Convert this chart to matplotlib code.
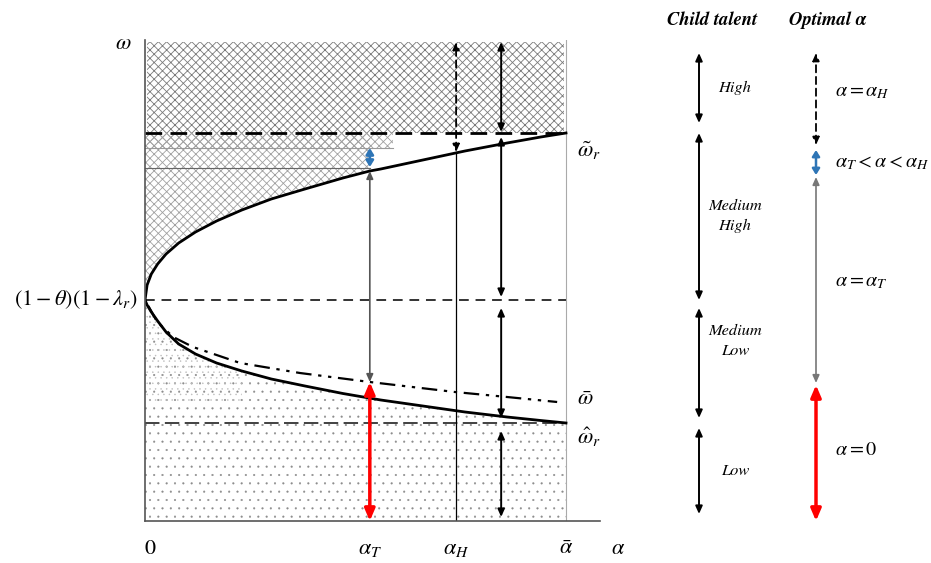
import matplotlib
matplotlib.use("Agg")
import matplotlib.pyplot as plt
import numpy as np

plt.rcParams["mathtext.fontset"] = "stix"
plt.rcParams["font.family"] = ["STIXGeneral", "DejaVu Serif"]
plt.rcParams["hatch.linewidth"] = 0.6

# Levels (omega) and thresholds (alpha, with alpha_bar = 1)
w_top = 4.79
w_tilde = 3.88
w_center = 2.21
w_hat = 0.98
blue_band = [3.73, 3.51]
alpha_T = 0.534
alpha_H = 0.739
alpha_mark = 0.846
w_tilde_T = 3.50
w_tilde_H = 3.69

# Upper boundary (omega tilde)
up_alpha = [0.0, 0.005, 0.015, 0.03, 0.05, 0.08, 0.12, 0.17, 0.23, 0.30, 0.38,
            0.47, 0.534, 0.56, 0.66, 0.76, 0.86, 0.94, 1.0]
up_omega = [2.21, 2.36, 2.47, 2.57, 2.67, 2.78, 2.89, 3.00, 3.11, 3.22, 3.32,
            3.43, 3.50, 3.52, 3.61, 3.70, 3.78, 3.84, 3.88]

# Lower boundary (omega hat)
lo_alpha = [0.0, 0.005, 0.015, 0.03, 0.05, 0.08, 0.12, 0.17, 0.23, 0.30, 0.38,
            0.47, 0.56, 0.66, 0.76, 0.86, 0.94, 1.0]
lo_omega = [2.21, 2.16, 2.09, 2.00, 1.89, 1.77, 1.67, 1.58, 1.50, 1.42, 1.35,
            1.275, 1.21, 1.15, 1.09, 1.04, 1.005, 0.98]

# omega bar (dash-dot)
bar_alpha = [0.008, 0.029, 0.067, 0.114, 0.226, 0.368, 0.534, 0.736, 0.860, 0.979]
bar_omega = [2.15, 1.99, 1.84, 1.74, 1.58, 1.48, 1.39, 1.29, 1.24, 1.19]
w_bar_T = 1.39

# Right-hand legend
talent_labels = ["High", "Medium\nHigh", "Medium\nLow", "Low"]
talent_spans = [(4.68, 3.98), (3.88, 2.21), (2.13, 1.03), (0.93, 0.07)]
talent_label_y = [4.33, 3.05, 1.80, 0.50]
optimal_labels = [r"$\alpha=\alpha_H$", r"$\alpha_T<\alpha<\alpha_H$", r"$\alpha=\alpha_T$", r"$\alpha=0$"]
optimal_spans = [(4.68, 3.76), (3.71, 3.46), (3.44, 1.38), (1.36, 0.0)]
optimal_label_y = [4.29, 3.58, 2.39, 0.71]

BLUE = "#2E75B6"
RED = "#FF0000"


def darrow(ax, x, y0, y1, color="black", lw=1.3, ls="-", hl=0.45, hw=0.2):
    ax.annotate("", xy=(x, y1), xytext=(x, y0),
                arrowprops=dict(arrowstyle=f"<|-|>,head_length={hl},head_width={hw}",
                                color=color, lw=lw, linestyle=ls,
                                shrinkA=0, shrinkB=0),
                annotation_clip=False)


fig = plt.figure(figsize=(9.31, 5.63), dpi=100)
ax = fig.add_axes([145 / 931, 42 / 563, 455 / 931, 481 / 563])
ax.set_xlim(0, 455 / 421)
ax.set_ylim(0, 4.81)
for s in ["top", "right"]:
    ax.spines[s].set_visible(False)
for s in ["left", "bottom"]:
    ax.spines[s].set_color("#555555")
    ax.spines[s].set_linewidth(1.2)
ax.set_xticks([])
ax.set_yticks([])

up_a = np.array(up_alpha)
up_w = np.array(up_omega)
lo_a = np.array(lo_alpha)
lo_w = np.array(lo_omega)

# shaded areas
ax.fill_between([0.005, 0.995], w_tilde, w_top, facecolor="none",
                edgecolor="#7a7a7a", hatch="xxxx", lw=0)
m = up_a <= alpha_T
ax.fill_between(up_a[m], up_w[m], w_tilde, facecolor="none",
                edgecolor="#a0a0a0", hatch="xxxx", lw=0)
ax.fill_between([0.005, 0.589], blue_band[0], w_tilde, facecolor="none",
                edgecolor="#a0a0a0", hatch="xxxx", lw=0)
with plt.rc_context({"hatch.linewidth": 0.3}):
    ax.fill_between(lo_a, 0.02, lo_w, facecolor="none",
                    edgecolor="#8c8c8c", hatch="..", lw=0)
    m2 = lo_a <= 0.266
    ax.fill_between(lo_a[m2], 1.2, lo_w[m2], facecolor="none",
                    edgecolor="#bdbdbd", hatch="...", lw=0)

# thin horizontal guide lines of the blue band
ax.plot([0, 0.589], [blue_band[0], blue_band[0]], color="#9a9a9a", lw=0.8)
ax.plot([0, alpha_T], [blue_band[1] + 0.02, blue_band[1] + 0.02], color="#666666", lw=0.8)

# right boundary alpha_bar
ax.plot([1, 1], [0, 4.81], color="#aaaaaa", lw=0.8)

# horizontal dashed levels
ax.plot([0, 1], [w_tilde, w_tilde], color="black", lw=2.0, ls=(0, (6, 3)))
ax.plot([0, 1], [w_center, w_center], color="#333333", lw=1.4, ls=(0, (5, 3.5)))
ax.plot([0, 1], [w_hat, w_hat], color="#333333", lw=1.3, ls=(0, (8, 3)))

# curves
ax.plot(up_a, up_w, color="black", lw=2.0)
ax.plot(lo_a, lo_w, color="black", lw=2.0)
ax.plot(bar_alpha, bar_omega, color="black", lw=1.6, ls=(0, (7, 3, 1.5, 3, 1.5, 3)))

# alpha_T arrows
darrow(ax, alpha_T, 0.0, w_bar_T, color=RED, lw=2.5, hl=0.7, hw=0.3)
darrow(ax, alpha_T, w_bar_T, w_tilde_T, color="#555555", lw=1.2)
darrow(ax, alpha_T, blue_band[1] + 0.03, blue_band[0], color=BLUE, lw=2.0, hl=0.35, hw=0.22)

# alpha_H line and dashed arrow
ax.plot([alpha_H, alpha_H], [0, w_tilde_H], color="black", lw=0.9)
darrow(ax, alpha_H, w_tilde_H, w_top, color="black", lw=1.3, ls=(0, (4, 2.5)))

# talent arrows in the chart
darrow(ax, alpha_mark, w_tilde + 0.01, w_top, lw=1.4)
darrow(ax, alpha_mark, w_center + 0.03, w_tilde - 0.04, lw=1.4)
darrow(ax, alpha_mark, w_hat + 0.05, w_center - 0.08, lw=1.4)
darrow(ax, alpha_mark, 0.04, w_hat - 0.08, lw=1.4)

# labels around the chart
ms = 16
ax.text(-0.052, 4.77, r"$\omega$", fontsize=ms, ha="center", va="center")
ax.text(-0.017, w_center, r"$(1-\theta)(1-\lambda_r)$", fontsize=ms, ha="right", va="center")
ax.text(1.025, 3.70, r"$\tilde{\omega}_r$", fontsize=ms, ha="left", va="center")
ax.text(1.025, 1.21, r"$\bar{\omega}$", fontsize=ms, ha="left", va="center")
ax.text(1.025, 0.84, r"$\hat{\omega}_r$", fontsize=ms, ha="left", va="center")
ax.text(0.012, -0.28, "0", fontsize=ms, ha="center", va="center")
ax.text(alpha_T, -0.28, r"$\alpha_T$", fontsize=ms, ha="center", va="center")
ax.text(alpha_H, -0.28, r"$\alpha_H$", fontsize=ms, ha="center", va="center")
ax.text(1.0, -0.28, r"$\bar{\alpha}$", fontsize=ms, ha="center", va="center")
ax.text(1.124, -0.28, r"$\alpha$", fontsize=ms, ha="center", va="center")

# legend panel
lg = fig.add_axes([642 / 931, 0, 289 / 931, 1])
lg.set_xlim(642, 931)
lg.set_ylim(-0.42, 5.21)
lg.axis("off")

lg.text(712, 5.01, "Child talent", fontsize=13.4, fontweight="bold", style="italic",
        ha="center", va="center")
lg.text(828, 5.01, "Optimal α", fontsize=13.4, fontweight="bold", style="italic",
        ha="center", va="center")

for lab, (y0, y1), ly in zip(talent_labels, talent_spans, talent_label_y):
    darrow(lg, 699, y1, y0, lw=1.4)
    lg.text(735, ly, lab, fontsize=11.8, style="italic", ha="center", va="center",
            linespacing=1.5)

opt_colors = ["black", BLUE, "#777777", RED]
opt_styles = [(0, (4, 2.5)), "-", "-", "-"]
opt_lw = [1.3, 1.8, 1.2, 2.5]
opt_hl = [0.45, 0.35, 0.45, 0.7]
opt_hw = [0.2, 0.22, 0.2, 0.3]
for i, ((y0, y1), lab, ly) in enumerate(zip(optimal_spans, optimal_labels, optimal_label_y)):
    darrow(lg, 816, y1, y0, color=opt_colors[i], lw=opt_lw[i], ls=opt_styles[i],
           hl=opt_hl[i], hw=opt_hw[i])
    lg.text(835, ly, lab, fontsize=14.5, ha="left", va="center")

fig.savefig("out.png", dpi=100, facecolor="white")
